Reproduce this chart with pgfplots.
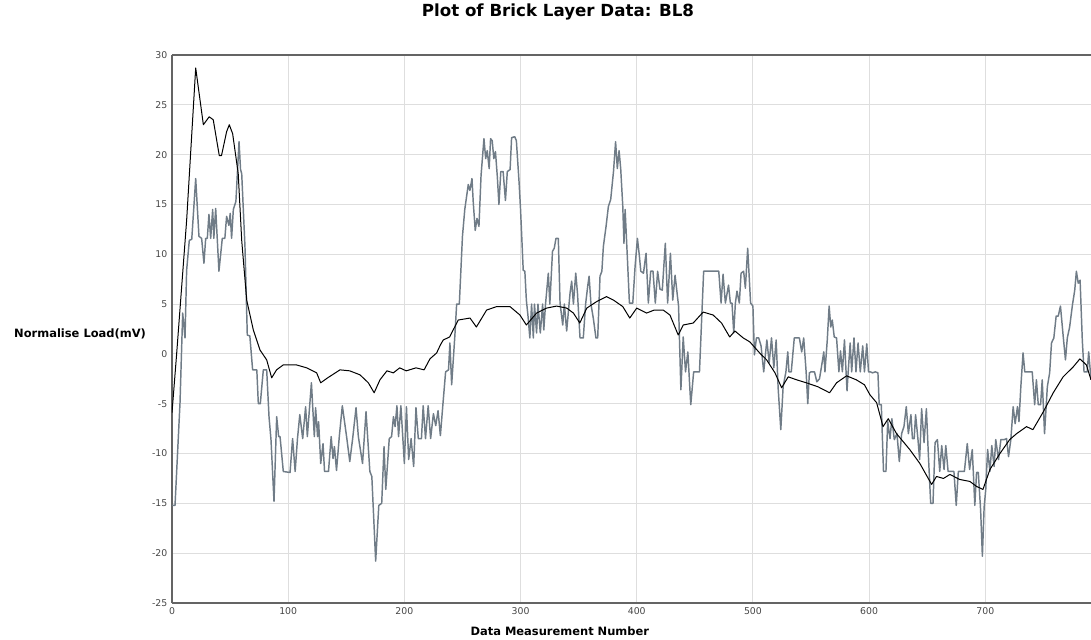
\documentclass[border=0pt]{standalone}
\usepackage{fontspec}
\setmainfont{DejaVu Sans}
\usepackage{pgfplots}
\pgfplotsset{compat=1.18}
\begin{document}
\begin{tikzpicture}

\definecolor{gridgray}{RGB}{222,222,222}
\definecolor{framegray}{RGB}{100,100,100}
\definecolor{slate}{RGB}{112,124,135}
\definecolor{ticktext}{RGB}{70,70,70}

% page = whole chart, the axis is cut at its right edge
\path[use as bounding box] (-129pt,-27pt) rectangle (689.25pt,452.25pt);

\begin{axis}[
	at={(0,0)}, anchor=south west,
	scale only axis,
	width=689.25pt, height=411pt,
	xmin=0, xmax=791,
	ymin=-25, ymax=30,
	axis x line=box, axis y line=left,
	axis line style={framegray, line width=1.5pt, -},
	x axis line style={-}, y axis line style={-},
	xticklabel pos=lower, yticklabel pos=left,
	grid=major,
	major grid style={gridgray, line width=0.8pt},
	major tick length=0pt,
	xtick={0,100,...,700},
	ytick={-25,-20,...,30},
	/pgf/number format/assume math mode=true,
	tick label style={font=\fontsize{7}{8}\selectfont, text=ticktext},
	title={Plot of Brick Layer Data: BL8},
	title style={at={(0.42,1)}, anchor=center, yshift=26pt, font=\fontsize{12.5}{14}\selectfont\bfseries},
	xlabel={Data Measurement Number},
	xlabel style={at={(0.422,0)}, anchor=center, yshift=-21.5pt, font=\fontsize{8.6}{10}\selectfont\bfseries},
	ylabel={Normalise Load(mV)},
	every axis y label/.style={at={(-0.1,0.491)}, anchor=center, font=\fontsize{8.6}{10}\selectfont\bfseries},
]
% raw readings
\addplot [slate, line width=1.1pt, line join=round]
table {%
0 -15.2
2.6 -15.2
6.9 -4.9
9.2 4.1
11.2 1.6
12.6 8.4
14.9 11.4
17 11.5
20.4 17.6
23.2 11.8
25.5 11.6
27.5 9.1
29 11.6
30.4 11.6
31.8 14.0
33.3 11.6
35 14.5
36 11.6
37.6 14.6
40.4 8.3
43.3 11.6
45.5 11.6
47 13.8
49 12.9
50.1 14.1
51.3 11.6
52.8 14.5
55 15.3
57.7 21.3
59 18.5
60 18.1
62.8 10.8
64.8 1.9
67 1.8
69.4 -1.6
73 -1.6
74.3 -5.0
76 -5.0
78.6 -1.6
81.5 -1.6
83.5 -6.3
85.2 -8.6
87.8 -14.8
90.1 -6.3
91.8 -8.3
93 -8.3
95.8 -11.8
101.6 -11.9
103.8 -8.5
106 -11.8
108 -8.5
110 -6.1
112.5 -8.5
115 -5.3
116.5 -8.3
120 -2.9
122.5 -8.3
123.6 -5.4
125.3 -8.3
126.2 -6.8
128 -11.0
130 -9.0
131.3 -11.8
134.7 -11.8
137 -8.3
138.6 -10.5
139.8 -9.3
141.6 -11.7
144 -8.3
146.6 -5.2
150.5 -8.5
153 -10.8
155.5 -8.5
158.4 -5.4
160.4 -8.3
164 -11.0
167 -5.8
170.3 -11.8
172 -12.3
175.3 -20.8
178 -15.2
180.5 -15.0
182.5 -9.3
184 -13.6
187 -8.5
189 -8.3
190.6 -6.3
192 -7.3
193.6 -5.2
195 -8.3
197 -5.2
200 -11.0
201.8 -5.3
203.7 -10.6
205.8 -8.5
208 -11.3
210 -5.4
212 -8.5
214.7 -8.5
216.2 -5.2
218.2 -8.5
220.5 -5.2
222.6 -8.5
225 -6.0
227 -7.2
229 -5.7
231 -8.2
233.5 -4.6
235.5 -1.8
238 -1.6
239.2 1.1
240.7 -3.1
243.5 1.9
245 5.0
247.3 5.0
250 11.8
252 14.5
255 17.0
256.4 16.4
258.2 17.6
259.3 15.2
261 12.4
262.5 13.6
264.2 12.8
266 17.9
268.5 21.6
270 19.6
271.3 20.4
273 18.6
274.2 21.6
275.6 21.4
277 19.6
278.4 20.3
280 17.8
281.4 15.0
283 18.3
285 18.3
287 15.4
288.6 18.3
291 18.5
292.3 21.7
295 21.8
296.4 21.4
298.8 17.1
300 14.5
302.3 8.4
303.7 8.3
305 5.4
306.5 3.7
308 1.6
309.5 5.0
311 1.6
312 5.0
313.8 2.1
315 5.0
317 2.1
319 5.0
320 2.4
321.5 5.0
323.9 8.1
325.2 5.0
327.5 10.3
329 10.6
330.5 11.6
332.5 11.6
334 5.1
336.3 2.9
337.7 5.0
339.7 2.3
342.6 6.1
344 7.3
345.5 5.0
347.5 8.1
349 6.1
350.4 3.2
351.2 1.6
354 1.6
356 5.0
357.8 6.8
359 7.8
360.6 5.0
362.6 3.6
364.9 1.6
366.4 1.6
368.4 7.8
370 8.3
371.3 10.8
373.6 12.8
375.6 14.8
377.6 15.5
380 18.3
381.8 21.3
383.3 18.6
384.8 20.4
386.2 18.6
388 14.8
389 11.1
390 14.5
392 9.5
393.7 5.1
396.6 5.1
398.6 8.8
400.6 11.6
402.3 9.8
403.5 8.3
405.8 8.1
408 10.1
410 5.1
412 8.3
414 8.3
416 5.1
418 8.3
420 6.5
422 6.4
424.6 11.1
426.6 5.1
429 10.1
431 5.4
433 7.9
436 4.8
438 -3.6
440 1.7
442 -1.8
444 0.2
446.5 -5.1
449 -1.8
454 -1.8
457.6 8.3
470.6 8.3
472.6 5.1
474.3 8.0
476.3 5.1
479 6.9
480.6 5.1
482 5.1
483.5 2.1
484.9 5.1
486.3 6.3
488.3 5.1
489.8 8.1
492 8.3
493.5 6.6
495.5 10.6
498 5.1
500 4.8
501.3 -0.1
503 1.6
505 1.6
507 0.8
509.3 -1.8
512 1.4
514 -0.9
516 1.6
518 -1.4
520 1.4
521.7 -3.4
524 -7.6
526 -3.3
528.4 -1.8
530 0.2
531 -1.8
533 -1.8
535.6 1.6
540 1.6
542 0.2
543.7 1.6
545.8 -1.8
547.2 -5.0
548.6 -1.9
550 -1.8
553 -1.8
555 -2.8
557.3 -2.5
559.4 -1.0
561 0.2
562 -1.8
564 1.4
565.6 4.8
567 2.7
568.3 3.4
570 1.7
572 1.6
574 -1.8
575.4 0.3
577 -1.8
578.8 1.4
581 -3.7
582 -1.8
583.7 1.1
585 -1.8
587 1.6
588.7 -1.8
590.5 1.1
592.4 -1.8
594.5 0.8
596 -1.8
598 1.0
599.5 -1.8
601 -1.8
603 -1.9
605.3 -1.8
607.6 -1.9
608.7 -5.1
610.5 -5.1
612.4 -11.8
614.5 -11.8
616 -6.8
618 -8.5
619.6 -6.5
621.7 -8.6
624 -8.0
626 -10.8
628 -8.0
630 -7.3
632 -5.3
633.8 -8.0
636 -6.1
637.3 -8.5
638.8 -8.5
640 -6.1
642 -8.5
643.5 -10.6
645.2 -5.5
647.3 -8.9
649.3 -5.5
651 -10.1
653 -15.0
655 -15.0
656.8 -8.9
658.8 -8.6
660.8 -11.8
662.5 -9.2
664.5 -11.6
666 -9.2
668 -11.8
673 -11.8
675 -15.2
676.8 -11.8
682 -11.8
684.5 -9.0
686.5 -11.6
688.8 -9.6
691 -15.2
692.5 -11.9
694 -11.9
696 -15.7
697.5 -20.3
699 -15.4
700.4 -13.6
702 -9.6
704 -11.8
705.6 -9.2
707.6 -11.3
709 -8.6
711.4 -10.6
713.4 -8.6
716.3 -8.6
718.3 -8.5
720 -10.3
722 -8.6
724 -5.3
725.7 -7.0
727.7 -5.3
729 -6.8
730.6 -3.3
732.5 0.1
734 -1.8
740.4 -1.8
742.5 -5.1
744 -2.6
745.6 -5.1
747.6 -5.1
749 -2.6
751 -8.0
753.4 -3.3
755.4 -1.9
757 1.1
759 1.6
761 3.8
762.8 3.8
764.7 4.8
766.8 2.1
769 -0.6
770.6 1.6
772.6 2.7
775 4.9
777 6.4
778.4 8.3
780 7.1
781.6 7.4
783.5 1.4
785 -1.8
787.7 -1.8
789 0.2
791 -2.6
};
% smoothed
\addplot [black, line width=0.75pt, line join=round]
table {%
0 -5.9
4 0
12.6 13.4
20.4 28.7
27 23.0
32 23.8
35.5 23.5
40.7 19.9
42.6 19.9
47 22.3
49.3 23.0
52.2 22.1
57 18.1
60 11.4
64.3 5.4
70 2.4
75.7 0.4
81.5 -0.6
85.8 -2.4
90 -1.6
95.8 -1.1
107 -1.1
116 -1.4
124.5 -1.9
128 -2.9
134 -2.4
144.6 -1.6
153 -1.7
161.8 -2.1
169 -2.9
174 -3.9
179 -2.6
185 -1.7
190.5 -1.9
196 -1.4
201.6 -1.7
210 -1.4
217 -1.6
222 -0.5
227.8 0.1
231 0.9
233.5 1.4
239 1.7
242 2.4
246.4 3.4
256.5 3.6
262 2.7
270.8 4.4
279.4 4.75
290.9 4.75
299.5 3.9
305 2.9
313.8 4.1
322.5 4.6
331 4.8
339.7 4.6
345.5 4.1
351 3.1
357 4.6
365.5 5.25
374 5.75
380 5.4
388 4.75
394 3.6
400 4.6
408.5 4.1
415 4.4
422.8 4.4
428.6 3.9
435.7 1.9
440 2.9
448.6 3.1
457.2 4.2
465.8 3.9
473 3.1
480 1.7
484.5 2.3
491.7 1.6
497.4 1.2
506 0.07
511.8 -0.6
519 -1.9
524.7 -3.4
530.4 -2.3
537.6 -2.6
546 -2.9
556 -3.3
566 -3.9
572 -2.9
580.6 -2.2
589 -2.6
596 -3.1
600.7 -4.1
606.5 -4.9
612 -7.3
616.5 -6.5
623.6 -8.0
635 -9.6
643.7 -11.0
653.8 -13.1
658 -12.3
664 -12.5
669.5 -12.1
678 -12.6
686.7 -12.8
692.5 -13.3
698 -13.6
704 -11.6
712.6 -10.0
721 -8.6
727 -8.0
735.5 -7.3
741 -7.6
750 -5.8
758.5 -3.9
767 -2.3
775.7 -1.3
781.4 -0.5
787 -1.1
791 -2.6
};
\end{axis}

\end{tikzpicture}
\end{document}
